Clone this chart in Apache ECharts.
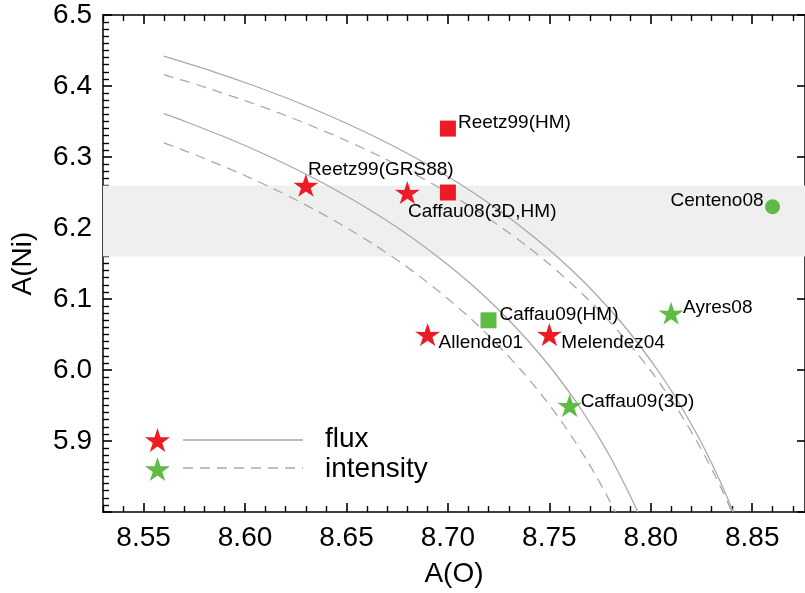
<!DOCTYPE html>
<html>
<head>
<meta charset="utf-8">
<script src="https://cdn.jsdelivr.net/npm/echarts@6/dist/echarts.min.js"></script>
<style>
  html, body { margin: 0; padding: 0; background: #fff; }
  #chart { width: 805px; height: 593px; }
</style>
</head>
<body>
<div id="chart"></div>
<script>
// ---------------- data ----------------
const oxygenMajorTicks = [8.55, 8.60, 8.65, 8.70, 8.75, 8.80, 8.85];
const oxygenMinorTicks = [8.53, 8.54, 8.56, 8.57, 8.58, 8.59, 8.61, 8.62, 8.63, 8.64,
  8.66, 8.67, 8.68, 8.69, 8.71, 8.72, 8.73, 8.74, 8.76, 8.77, 8.78, 8.79,
  8.81, 8.82, 8.83, 8.84, 8.86, 8.87];
const nickelTickLabels = ['5.9', '6.0', '6.1', '6.2', '6.3', '6.4', '6.5'];

const bandRange = [6.16, 6.26];

// curves (A(O), A(Ni))
const curveNames = ['5.7', '4.8', '5.2', '4.3'];
const curve57 = [[8.5600, 6.442], [8.5846, 6.42], [8.6048, 6.40], [8.6276, 6.375], [8.6480, 6.35],
  [8.6665, 6.325], [8.6833, 6.30], [8.6985, 6.275], [8.7124, 6.25], [8.7252, 6.225], [8.7368, 6.20],
  [8.7476, 6.175], [8.7575, 6.15], [8.7667, 6.125], [8.7751, 6.10], [8.7830, 6.075], [8.7903, 6.05],
  [8.7970, 6.025], [8.8033, 6.00], [8.8092, 5.975], [8.8146, 5.95], [8.8197, 5.925], [8.8245, 5.90],
  [8.8289, 5.875], [8.8331, 5.85], [8.8370, 5.825], [8.8406, 5.80]];
const curve48 = [[8.5600, 6.416], [8.5784, 6.40], [8.6044, 6.375], [8.6276, 6.35], [8.6484, 6.325],
  [8.6672, 6.30], [8.6843, 6.275], [8.6998, 6.25], [8.7139, 6.225], [8.7268, 6.20], [8.7387, 6.175],
  [8.7496, 6.15], [8.7596, 6.125], [8.7689, 6.10], [8.7775, 6.075], [8.7854, 6.05], [8.7928, 6.025],
  [8.7997, 6.00], [8.8060, 5.975], [8.8120, 5.95], [8.8175, 5.925], [8.8226, 5.90], [8.8274, 5.875],
  [8.8319, 5.85], [8.8361, 5.825], [8.8400, 5.80]];
const curve52 = [[8.5600, 6.361], [8.5705, 6.35], [8.5927, 6.325], [8.6126, 6.30], [8.6306, 6.275],
  [8.6469, 6.25], [8.6618, 6.225], [8.6754, 6.20], [8.6878, 6.175], [8.6992, 6.15], [8.7098, 6.125],
  [8.7195, 6.10], [8.7284, 6.075], [8.7367, 6.05], [8.7444, 6.025], [8.7516, 6.00], [8.7582, 5.975],
  [8.7644, 5.95], [8.7701, 5.925], [8.7755, 5.90], [8.7805, 5.875], [8.7851, 5.85], [8.7895, 5.825],
  [8.7936, 5.80]];
const curve43 = [[8.5600, 6.320], [8.5782, 6.30], [8.5991, 6.275], [8.6179, 6.25], [8.6349, 6.225],
  [8.6503, 6.20], [8.6645, 6.175], [8.6774, 6.15], [8.6892, 6.125], [8.7001, 6.10], [8.7102, 6.075],
  [8.7195, 6.05], [8.7280, 6.025], [8.7360, 6.00], [8.7434, 5.975], [8.7502, 5.95], [8.7566, 5.925],
  [8.7625, 5.90], [8.7680, 5.875], [8.7732, 5.85], [8.7780, 5.825], [8.7825, 5.80]];

// measurements
const fluxStarNames = ['Reetz99(GRS88)', 'Caffau08(3D)', 'Allende01', 'Melendez04'];
const fluxStarO = [8.63, 8.68, 8.69, 8.75];
const fluxStarNi = [6.26, 6.25, 6.05, 6.05];

const fluxSquareNames = ['Reetz99(HM)', 'Caffau08(3D,HM)'];
const fluxSquareO = [8.70, 8.70];
const fluxSquareNi = [6.34, 6.25];

const intStarNames = ['Ayres08', 'Caffau09(3D)'];
const intStarO = [8.81, 8.76];
const intStarNi = [6.08, 5.95];

const intSquareNames = ['Caffau09(HM)'];
const intSquareO = [8.72];
const intSquareNi = [6.07];

const intCircleNames = ['Centeno08'];
const intCircleO = [8.86];
const intCircleNi = [6.23];

// ---------------- styles ----------------
const FONT = 'Liberation Sans, Arial, Helvetica, sans-serif';
const RED = '#ec1c24';
const GREEN = '#5fbb46';
const CURVE = '#a9a9a9';
const STAR = 'path://M50,0 L61.2,35.1 L97.6,34.5 L68.1,56.2 L79.4,90.5 L50,69.6 L20.6,90.5 L31.9,56.2 L2.4,34.5 L38.8,35.1 Z';

const labelPlacement = {
  'Reetz99(GRS88)': { align: 'left', offset: [2, -16] },
  'Reetz99(HM)': { align: 'left', offset: [10, -6] },
  'Caffau08(3D,HM)': { align: 'left', offset: [-40, 19] },
  'Centeno08': { align: 'right', offset: [-9, -6] },
  'Caffau09(HM)': { align: 'left', offset: [11, -6] },
  'Allende01': { align: 'left', offset: [11, 8] },
  'Melendez04': { align: 'left', offset: [12, 8] },
  'Ayres08': { align: 'left', offset: [12, -5] },
  'Caffau09(3D)': { align: 'left', offset: [11, -4] }
};

function points(names, xs, ys) {
  return names.map(function (n, i) {
    const item = { name: n, value: [xs[i], ys[i]] };
    const p = labelPlacement[n];
    if (p) {
      item.label = {
        show: true, position: 'inside', align: p.align, verticalAlign: 'middle',
        offset: p.offset, formatter: '{b}', color: '#000', fontSize: 19, fontFamily: FONT
      };
    }
    return item;
  });
}

function curveSeries(name, data, dashed) {
  return {
    name: name, type: 'line', data: data, smooth: 0.25, showSymbol: false, symbol: 'none',
    silent: true, z: 2,
    lineStyle: { color: CURVE, width: 1.3, type: dashed ? [10, 7] : 'solid' }
  };
}

const curves = [curve57, curve48, curve52, curve43];

const axisLineStyle = { color: '#000', width: 1.5 };
const minorTickStyle = { color: '#000', width: 1.4 };
const majorTickStyle = { color: '#000', width: 1.6 };
const xMin = 8.53, xMax = 8.876;

function scatterSeries(name, symbol, size, color, data) {
  return {
    name: name, type: 'scatter', z: 5, symbol: symbol, symbolSize: size, symbolKeepAspect: true,
    itemStyle: { color: color, opacity: 1 }, data: data
  };
}

const option = {
  animation: false,
  backgroundColor: '#fff',
  textStyle: { fontFamily: FONT },
  grid: { left: 103, right: 0, top: 15, bottom: 76 },
  xAxis: [
    {
      type: 'value', position: 'bottom', min: xMin, max: xMax,
      name: 'A(O)', nameLocation: 'middle', nameGap: 48,
      nameTextStyle: { fontSize: 28, color: '#000', fontFamily: FONT },
      axisLine: { show: true, lineStyle: axisLineStyle },
      axisTick: { show: true, inside: true, length: 9, customValues: oxygenMajorTicks, lineStyle: majorTickStyle },
      axisLabel: { show: true, customValues: oxygenMajorTicks, margin: 12, fontSize: 28, color: '#000', fontFamily: FONT,
        formatter: function (v) { return v.toFixed(2); } },
      splitLine: { show: false }
    },
    {
      type: 'value', position: 'bottom', min: xMin, max: xMax,
      axisLine: { show: false },
      axisTick: { show: true, inside: true, length: 6, customValues: oxygenMinorTicks, lineStyle: minorTickStyle },
      axisLabel: { show: false }, splitLine: { show: false }
    },
    {
      type: 'value', position: 'top', min: xMin, max: xMax,
      axisLine: { show: true, lineStyle: axisLineStyle },
      axisTick: { show: true, inside: true, length: 9, customValues: oxygenMajorTicks, lineStyle: majorTickStyle },
      axisLabel: { show: false }, splitLine: { show: false }
    },
    {
      type: 'value', position: 'top', min: xMin, max: xMax,
      axisLine: { show: false },
      axisTick: { show: true, inside: true, length: 6, customValues: oxygenMinorTicks, lineStyle: minorTickStyle },
      axisLabel: { show: false }, splitLine: { show: false }
    }
  ],
  yAxis: [
    {
      type: 'value', position: 'left', min: 5.8, max: 6.5, interval: 0.1,
      name: 'A(Ni)', nameLocation: 'middle', nameGap: 66,
      nameTextStyle: { fontSize: 28, color: '#000', fontFamily: FONT },
      axisLine: { show: true, lineStyle: axisLineStyle },
      axisTick: { show: true, inside: true, length: 9, lineStyle: majorTickStyle },
      minorTick: { show: true, splitNumber: 10, length: 6, lineStyle: minorTickStyle },
      axisLabel: { show: true, margin: 11, fontSize: 28, color: '#000', fontFamily: FONT,
        formatter: function (v) { const s = v.toFixed(1); return nickelTickLabels.indexOf(s) >= 0 ? s : ''; } },
      splitLine: { show: false }, minorSplitLine: { show: false }
    },
    {
      type: 'value', position: 'right', min: 5.8, max: 6.5, interval: 0.1,
      axisLine: { show: true, lineStyle: axisLineStyle },
      axisTick: { show: true, inside: true, length: 8, lineStyle: majorTickStyle },
      axisLabel: { show: false }, splitLine: { show: false }
    }
  ],
  legend: [
    {
      data: [{ name: 'flux', icon: STAR }], left: 145, top: 428, padding: 0, itemWidth: 25, itemHeight: 24,
      selectedMode: false, formatter: function () { return ''; }, textStyle: { fontSize: 1 }
    },
    {
      data: [{ name: 'intensity', icon: STAR }], left: 145, top: 457, padding: 0, itemWidth: 25, itemHeight: 24,
      selectedMode: false, formatter: function () { return ''; }, textStyle: { fontSize: 1 }
    }
  ],
  graphic: [
    { type: 'line', shape: { x1: 183, y1: 440, x2: 303, y2: 440 }, style: { stroke: CURVE, lineWidth: 1.3 } },
    { type: 'line', shape: { x1: 183, y1: 468, x2: 303, y2: 468 }, style: { stroke: CURVE, lineWidth: 1.3, lineDash: [10, 7] } },
    { type: 'text', left: 325, top: 425, style: { text: 'flux', fontSize: 28, fontFamily: FONT, fill: '#000' } },
    { type: 'text', left: 325, top: 455, style: { text: 'intensity', fontSize: 28, fontFamily: FONT, fill: '#000' } }
  ],
  series: [
    {
      name: 'band', type: 'line', data: [], silent: true, z: 0,
      markArea: {
        silent: true,
        itemStyle: { color: '#efefef' },
        data: [[{ yAxis: bandRange[0] }, { yAxis: bandRange[1] }]]
      }
    },
    curveSeries('c57', curve57, false),
    curveSeries('c48', curve48, true),
    curveSeries('c52', curve52, false),
    curveSeries('c43', curve43, true),
    {
      name: 'curveLabels', type: 'scatter', silent: true, z: 3,
      symbolSize: 1, itemStyle: { opacity: 0 },
      data: curves.map(function (c, i) { return { name: curveNames[i], value: c[0] }; }),
      label: { show: true, position: 'left', distance: 13, offset: [0, -5], formatter: '{b}',
        color: '#b2b2b2', fontSize: 18, fontFamily: FONT }
    },
    scatterSeries('flux', STAR, [25, 24], RED, points(fluxStarNames, fluxStarO, fluxStarNi)),
    scatterSeries('fluxHM', 'rect', 16, RED, points(fluxSquareNames, fluxSquareO, fluxSquareNi)),
    scatterSeries('intensity', STAR, [25, 24], GREEN, points(intStarNames, intStarO, intStarNi)),
    scatterSeries('intensityHM', 'rect', 16, GREEN, points(intSquareNames, intSquareO, intSquareNi)),
    scatterSeries('intensityCircle', 'circle', 15, GREEN, points(intCircleNames, intCircleO, intCircleNi))
  ]
};

const chart = echarts.init(document.getElementById('chart'), null, { renderer: 'canvas' });
chart.setOption(option);
</script>
</body>
</html>
